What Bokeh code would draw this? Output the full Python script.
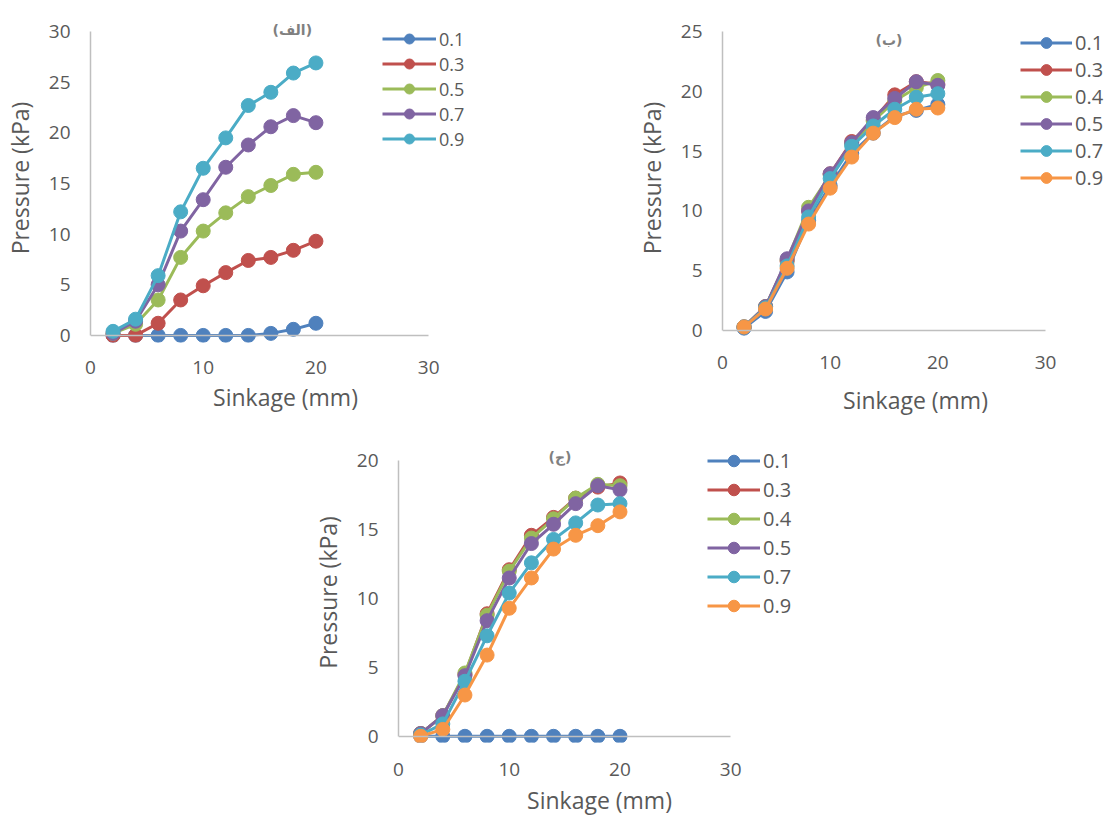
from bokeh.plotting import figure
from bokeh.layouts import column, row
from bokeh.models import Spacer, Legend, FixedTicker, LinearAxis
from bokeh.embed import file_html
from bokeh.resources import INLINE

sinkage = [2, 4, 6, 8, 10, 12, 14, 16, 18, 20]

# Panel (الف)
a_labels = ["0.1", "0.3", "0.5", "0.7", "0.9"]
a_01 = [0, 0, 0, 0, 0, 0, 0, 0.2, 0.6, 1.2]
a_03 = [0, 0, 1.2, 3.5, 4.9, 6.2, 7.4, 7.7, 8.4, 9.3]
a_05 = [0.2, 1.1, 3.5, 7.7, 10.3, 12.1, 13.7, 14.8, 15.9, 16.1]
a_07 = [0.2, 1.4, 5.0, 10.3, 13.4, 16.6, 18.8, 20.6, 21.7, 21.0]
a_09 = [0.4, 1.6, 5.9, 12.2, 16.5, 19.5, 22.7, 24.0, 25.9, 26.9]

# Panel (ب)
b_labels = ["0.1", "0.3", "0.4", "0.5", "0.7", "0.9"]
b_01 = [0.2, 1.6, 4.9, 9.2, 12.1, 14.8, 16.5, 17.9, 18.4, 18.9]
b_03 = [0.3, 2.0, 5.8, 10.0, 13.1, 15.8, 17.6, 19.7, 20.8, 20.6]
b_04 = [0.3, 2.0, 5.9, 10.3, 13.0, 15.6, 17.5, 19.2, 20.3, 20.9]
b_05 = [0.3, 2.0, 6.0, 10.0, 13.1, 15.7, 17.8, 19.4, 20.8, 20.5]
b_07 = [0.3, 1.9, 5.4, 9.5, 12.7, 15.4, 17.1, 18.5, 19.5, 19.8]
b_09 = [0.3, 1.8, 5.2, 8.9, 11.9, 14.5, 16.5, 17.8, 18.5, 18.6]

# Panel (ج)
c_labels = ["0.1", "0.3", "0.4", "0.5", "0.7", "0.9"]
c_01 = [0, 0, 0, 0, 0, 0, 0, 0, 0, 0]
c_03 = [0.2, 1.5, 4.5, 8.9, 12.1, 14.6, 15.9, 17.3, 18.1, 18.4]
c_04 = [0.2, 1.5, 4.6, 8.8, 12.0, 14.4, 15.8, 17.3, 18.3, 18.2]
c_05 = [0.2, 1.5, 4.4, 8.4, 11.5, 14.0, 15.4, 16.9, 18.2, 17.9]
c_07 = [0.1, 0.9, 4.0, 7.3, 10.4, 12.6, 14.3, 15.5, 16.8, 16.9]
c_09 = [0.0, 0.5, 3.0, 5.9, 9.3, 11.5, 13.6, 14.6, 15.3, 16.3]

x_ticks = [0, 10, 20, 30]

COLORS = {"0.1": "#4F81BD", "0.3": "#C0504D", "0.4": "#9BBB59", "0.5": "#8064A2",
          "0.7": "#4BACC6", "0.9": "#F79646"}
A_COLORS = ["#4F81BD", "#C0504D", "#9BBB59", "#8064A2", "#4BACC6"]

FONT = "Open Sans"
TXT = "#595959"
AXC = "#BFBFBF"


def make_panel(title, labels, series, colors, width, height, mb_left, mb_top, mb_bottom,
               xend, y0, yend, yticks, legend_xy, title_offset, title_standoff, pitch,
               leg_font, glyph_w, xlab_standoff, xaxlab_standoff):
    p = figure(width=width, height=height, x_range=(0, xend), y_range=(y0, yend),
               output_backend="svg", toolbar_location=None,
               min_border_left=mb_left, min_border_right=0,
               min_border_top=mb_top, min_border_bottom=mb_bottom)
    p.outline_line_color = None
    p.grid.visible = False
    p.title.text = title
    p.title.align = "left"
    p.title.offset = title_offset
    p.title.standoff = title_standoff
    p.title.text_font = "DejaVu Sans"
    p.title.text_font_size = "14px"
    p.title.text_color = "#808080"
    p.title.text_font_style = "bold"

    items = []
    for lab, ys, col in zip(labels, series, colors):
        l = p.line(sinkage, ys, line_color=col, line_width=3)
        s = p.scatter(sinkage, ys, size=14, fill_color=col, line_color=col)
        items.append((lab, [l, s]))
    leg = Legend(items=items, location=legend_xy)
    leg.background_fill_alpha = 0
    leg.border_line_color = None
    leg.padding = 0
    leg.margin = 0
    leg.spacing = 0
    leg.glyph_width = glyph_w
    leg.glyph_height = pitch
    leg.label_height = pitch
    leg.label_standoff = 3
    leg.label_text_font = FONT
    leg.label_text_font_size = leg_font
    leg.label_text_color = TXT
    p.add_layout(leg)

    # line of the x axis through y = 0
    line_ax = LinearAxis(fixed_location=0, bounds=(0, 30), ticker=FixedTicker(ticks=[]),
                         axis_line_color=AXC, axis_line_width=1.5,
                         major_tick_line_color=None, minor_tick_line_color=None,
                         major_tick_out=0, major_tick_in=0, major_label_standoff=0,
                         major_label_text_font_size="0px")
    p.add_layout(line_ax, "below")

    for ax in (p.xaxis[0], p.yaxis[0]):
        ax.axis_line_color = AXC
        ax.axis_line_width = 1.5
        ax.major_tick_line_color = None
        ax.minor_tick_line_color = None
        ax.major_tick_out = 0
        ax.major_tick_in = 0
        ax.major_label_text_font = FONT
        ax.major_label_text_font_size = "19px"
        ax.major_label_text_color = TXT
        ax.axis_label_text_font = FONT
        ax.axis_label_text_font_size = "23px"
        ax.axis_label_text_font_style = "normal"
        ax.axis_label_text_color = TXT
    xa = p.xaxis[0]
    xa.axis_line_color = None
    xa.ticker = FixedTicker(ticks=x_ticks)
    xa.major_label_standoff = xlab_standoff
    xa.axis_label = "Sinkage (mm)"
    xa.axis_label_standoff = xaxlab_standoff
    ya = p.yaxis[0]
    ya.ticker = FixedTicker(ticks=yticks)
    ya.bounds = (0, yticks[-1])
    ya.major_label_standoff = 20
    ya.axis_label = "Pressure (kPa)"
    ya.axis_label_standoff = 10
    return p


p1 = make_panel("(الف)", a_labels, [a_01, a_03, a_05, a_07, a_09], A_COLORS,
                width=480, height=425, mb_left=90, mb_top=13, mb_bottom=83,
                xend=34.6, y0=-0.7, yend=31.78, yticks=[0, 5, 10, 15, 20, 25, 30],
                legend_xy=(292, 191), title_offset=182, title_standoff=-49, pitch=25,
                leg_font="18px", glyph_w=54, xlab_standoff=18, xaxlab_standoff=4)
p2 = make_panel("(ب)", b_labels, [b_01, b_03, b_04, b_05, b_07, b_09],
                [COLORS[k] for k in b_labels],
                width=476, height=425, mb_left=90, mb_top=13, mb_bottom=83,
                xend=35.85, y0=-1.0, yend=26.5, yticks=[0, 5, 10, 15, 20, 25],
                legend_xy=(298, 151), title_offset=153, title_standoff=-69, pitch=27,
                leg_font="20px", glyph_w=52, xlab_standoff=13, xaxlab_standoff=12)
p3 = make_panel("(ج)", c_labels, [c_01, c_03, c_04, c_05, c_07, c_09],
                [COLORS[k] for k in c_labels],
                width=492, height=394, mb_left=90, mb_top=17, mb_bottom=77,
                xend=36.3, y0=-0.45, yend=21.34, yticks=[0, 5, 10, 15, 20],
                legend_xy=(309, 122), title_offset=150, title_standoff=-45, pitch=29,
                leg_font="20px", glyph_w=53, xlab_standoff=20, xaxlab_standoff=5)

layout = column(row(p1, Spacer(width=152, height=425), p2),
                row(Spacer(width=308, height=394), p3))
layout.spacing = 0

open("out.html", "w").write(file_html(layout, INLINE))
